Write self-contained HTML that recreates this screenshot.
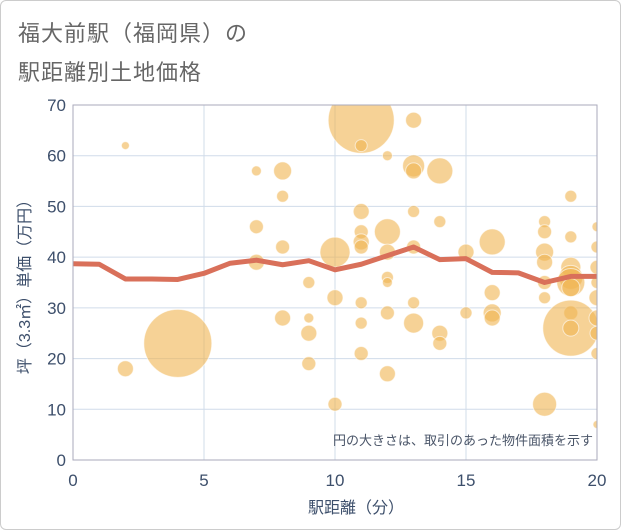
<!DOCTYPE html>
<html><head><meta charset="utf-8"><style>
body{margin:0;background:#fff;font-family:"Liberation Sans","Noto Sans CJK JP",sans-serif}
#frame{position:absolute;left:0;top:0;width:619px;height:528px;border:1px solid #ccc;border-radius:6px}
.title{position:absolute;left:18px;font-size:22px;color:#666;letter-spacing:1px}
</style></head><body>
<div id="frame"></div>
<div class="title" style="top:16px">福大前駅（福岡県）の</div>
<div class="title" style="top:55px">駅距離別土地価格</div>
<svg width="621" height="530" style="position:absolute;left:0;top:0">
<defs><clipPath id="pc"><rect x="73" y="105" width="524" height="355"/></clipPath></defs>
<g id="grid"></g><g id="bub" clip-path="url(#pc)"></g><g id="ln" clip-path="url(#pc)"></g><g id="ax"></g>
<text x="593" y="445" text-anchor="end" font-size="13" fill="#4a5568">円の大きさは、取引のあった物件面積を示す</text>
<text x="356" y="513" text-anchor="middle" font-size="16" fill="#3d4f6b">駅距離（分）</text>
<text transform="translate(30,283) rotate(-90)" text-anchor="middle" font-size="16" fill="#3d4f6b">坪（3.3㎡）単価（万円）</text>
</svg>
<script>
const xTicks=[0,5,10,15,20];
const yTicks=[0,10,20,30,40,50,60,70];
const bx=[2,2,4,7,7,7,8,8,8,8,9,9,9,9,10,10,10,11,11,11,11,11,11,11,11,11,12,12,12,12,12,12,12,13,13,13,13,13,13,13,14,14,14,14,15,15,16,16,16,16,18,18,18,18,18,18,18,19,19,19,19,19,19,19,19,19,20,20,20,20,20,20,20,20,20];
const by=[62,18,23,57,46,39,57,52,42,28,35,28,25,19,41,32,11,67,62,49,45,43,42,31,27,21,60,45,41,36,35,29,17,67,58,57,49,42,31,27,57,47,25,23,41,29,43,33,29,28,47,45,41,39,35,32,11,52,44,38,36,35,34,29,26,26,46,42,38,35,32,28,25,21,7];
const bs=[4,8,34,5,7,8,9,6,7,8,6,5,8,7,15,8,7,33,6,8,7,8,7,6,6,7,5,13,8,6,5,7,8,8,11,8,6,7,6,10,13,6,8,7,8,6,13,8,9,8,6,7,9,8,7,6,12,6,6,10,12,14,9,7,28,8,5,6,7,6,8,8,7,6,4];
const lx=[0,1,2,3,4,5,6,7,8,9,10,11,12,13,14,15,16,17,18,19,20];
const ly=[38.7,38.6,35.7,35.7,35.6,36.8,38.8,39.4,38.5,39.3,37.5,38.6,40.3,42,39.5,39.7,37,36.9,35,36.2,36.2];
const X=v=>73+v*524/20, Y=v=>460-v*355/70, NS="http://www.w3.org/2000/svg";
function mk(p,t,a){const e=document.createElementNS(NS,t);for(const k in a)e.setAttribute(k,a[k]);document.getElementById(p).appendChild(e);return e;}
xTicks.forEach(v=>{const l=mk('grid','line',{x1:X(v),x2:X(v),y1:105,y2:460,stroke:'#d0dcea'});


const t=mk('ax','text',{x:X(v),y:486,'text-anchor':'middle','font-size':17,fill:'#3d4f6b'});t.textContent=v;

});
yTicks.forEach(v=>{const l=mk('grid','line',{x1:73,x2:597,y1:Y(v),y2:Y(v),stroke:'#d0dcea'});


const t=mk('ax','text',{x:66,y:Y(v)+6,'text-anchor':'end','font-size':17,fill:'#3d4f6b'});t.textContent=v;

});
const b=mk('ax','rect',{x:73,y:105,width:524,height:355,fill:'none',stroke:'#aab'});


bx.forEach((v,i)=>{const c=mk('bub','circle',{cx:X(v),cy:Y(by[i]),r:bs[i],fill:'rgba(240,180,80,0.6)',stroke:'rgba(255,255,255,0.6)','stroke-width':1});

});
const p=mk('ln','polyline',{points:lx.map((v,i)=>X(v)+','+Y(ly[i])).join(' '),fill:'none',stroke:'#d9705a','stroke-width':5,'stroke-linejoin':'round'});


</script>
</body></html>
